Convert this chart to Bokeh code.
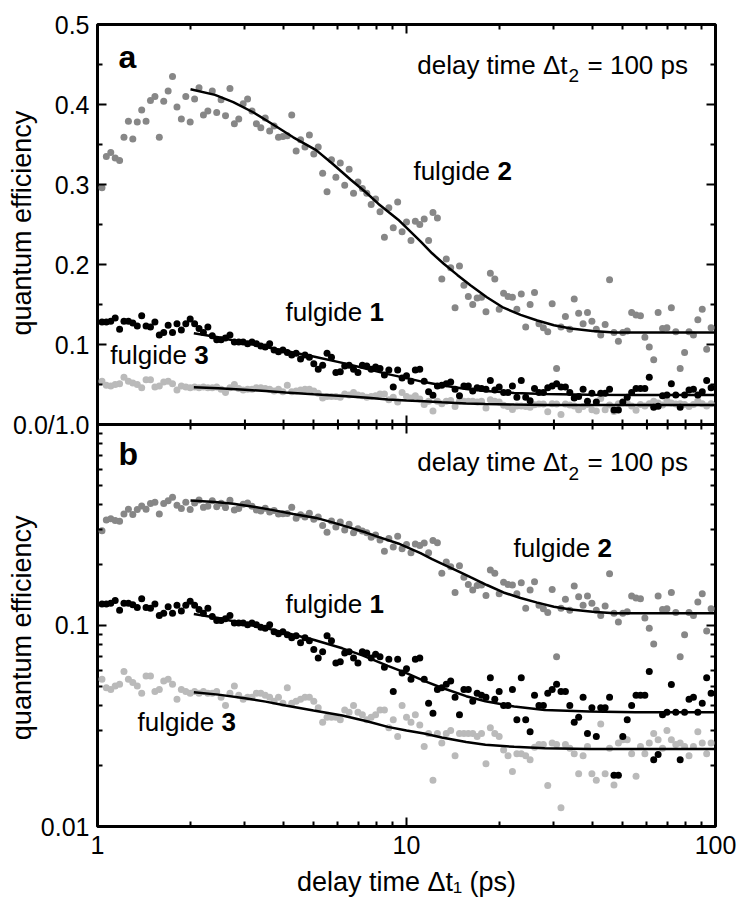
import math
from bokeh.plotting import figure
from bokeh.models import (Range1d, LogScale, LinearAxis, LogAxis, FixedTicker,
                          BasicTickFormatter, Span)
from bokeh.embed import file_html
from bokeh.resources import INLINE
from bokeh.core.properties import value

# ---------------- data ----------------
delay = [
    1.034, 1.068, 1.104, 1.141, 1.179, 1.218, 1.259, 1.301, 1.345, 1.390,
    1.436, 1.484, 1.534, 1.585, 1.638, 1.693, 1.749, 1.808, 1.868, 1.931,
    1.995, 2.062, 2.131, 2.202, 2.276, 2.352, 2.431, 2.512, 2.596, 2.683,
    2.773, 2.865, 2.961, 3.060, 3.162, 3.268, 3.377, 3.490, 3.607, 3.728,
    3.852, 3.981, 4.114, 4.252, 4.394, 4.541, 4.693, 4.850, 5.012, 5.180,
    5.353, 5.532, 5.717, 5.908, 6.105, 6.310, 6.521, 6.739, 6.964, 7.197,
    7.438, 7.686, 7.943, 8.209, 8.483, 8.767, 9.060, 9.363, 9.677, 10.00,
    10.34, 10.68, 11.04, 11.41, 11.79, 12.18, 12.59, 13.01, 13.45, 13.90,
    14.36, 14.84, 15.34, 15.85, 16.38, 16.93, 17.49, 18.08, 18.68, 19.31,
    19.95, 20.62, 21.31, 22.02, 22.76, 23.52, 24.31, 25.12, 25.96, 26.83,
    27.73, 28.65, 29.61, 30.60, 31.62, 32.68, 33.77, 34.90, 36.07, 37.28,
    38.52, 39.81, 41.14, 42.52, 43.94, 45.41, 46.93, 48.50, 50.12, 51.80,
    53.53, 55.32, 57.17, 59.08, 61.05, 63.10, 65.21, 67.39, 69.64, 71.97,
    74.38, 76.86, 79.43, 82.09, 84.84, 87.67, 90.60, 93.63, 96.77,
]

fulgide2 = [
    .296, .335, .340, .333, .330, .359, .379, .357, .378, .393,
    .379, .405, .410, .359, .404, .417, .435, .397, .382, .410,
    .378, .407, .421, .387, .392, .417, .390, .406, .386, .420,
    .376, .382, .401, .407, .392, .376, .371, .383, .367, .373,
    .359, .360, .361, .387, .342, .356, .347, .362, .338, .347,
    .314, .291, .331, .309, .327, .299, .319, .289, .303, .295,
    .289, .275, .282, .266, .234, .271, .246, .278, .241, .253,
    .230, .254, .250, .257, .230, .265, .258, .182, .207, .196,
    .146, .198, .174, .160, .150, .158, .159, .141, .189, .182,
    .144, .164, .160, .159, .144, .163, .122, .150, .165, .126,
    .121, .116, .151, .070, .122, .135, .119, .157, .139, .126,
    .140, .129, .119, .112, .125, .181, .115, .104, .115, .117,
    .140, .137, .136, .109, .097, .081, .140, .120, .121, .146,
    .116, .070, .090, .116, .112, .131, .144, .094, .121,
]

fulgide1 = [
    .128, .128, .129, .133, .119, .129, .129, .127, .123, .136,
    .123, .122, .128, .112, .115, .124, .115, .126, .118, .126,
    .132, .126, .120, .115, .122, .111, .106, .106, .108, .112,
    .103, .103, .103, .101, .103, .101, .098, .097, .101, .093,
    .091, .093, .090, .087, .089, .082, .087, .084, .076, .069,
    .074, .089, .084, .065, .066, .073, .074, .069, .065, .074,
    .073, .069, .072, .070, .062, .068, .047, .068, .058, .061,
    .054, .068, .069, .054, .041, .0366, .048, .049, .051, .053,
    .044, .036, .048, .048, .042, .046, .045, .044, .055, .043,
    .047, .040, .040, .048, .034, .055, .034, .0296, .045, .040,
    .040, .046, .048, .051, .047, .047, .040, .033, .035, .044,
    .029, .039, .028, .039, .039, .044, .018, .018, .028, .034,
    .040, .045, .045, .045, .059, .0215, .0228, .036, .037, .0508,
    .037, .0215, .037, .043, .044, .037, .041, .055, .046,
]

fulgide3 = [
    .054, .049, .048, .050, .051, .059, .054, .052, .050, .046,
    .056, .056, .047, .048, .053, .054, .051, .043, .048, .047,
    .046, .047, .046, .047, .046, .046, .047, .044, .040, .046,
    .050, .045, .043, .044, .044, .046, .046, .045, .044, .042,
    .044, .041, .049, .041, .042, .043, .044, .044, .042, .039,
    .033, .035, .035, .035, .034, .038, .037, .040, .037, .036,
    .034, .035, .036, .038, .038, .031, .034, .028, .040, .035,
    .033, .036, .032, .025, .029, .017, .029, .026, .029, .030,
    .0225, .029, .029, .029, .029, .028, .029, .0205, .031, .029,
    .028, .024, .0225, .0188, .023, .023, .0225, .0215, .0248, .0256,
    .0256, .016, .026, .0256, .0124, .0256, .0245, .023, .0183, .0225,
    .025, .0183, .017, .0324, .0183, .0245, .0161, .026, .027, .027,
    .023, .0178, .025, .023, .026, .029, .027, .0245, .030, .027,
    .0256, .026, .025, .0225, .025, .0296, .026, .023, .026,
]

fit2_x = [2.0, 2.4, 2.75, 3.2, 3.7, 4.3, 5.1, 5.8, 6.6, 7.4, 8.1, 9.4, 11.1, 12.1,
          13.2, 14.6, 16.1, 18.2, 20.6, 23.4, 26.5, 30, 34, 40, 47, 56, 70, 100]
fit2_y = [.419, .412, .403, .390, .375, .359, .343, .325, .306, .290, .276, .256, .229, .214,
          .201, .187, .174, .159, .146, .137, .130, .124, .120, .117, .115, .115, .115, .115]

fit1_x = [2.05, 2.46, 3.0, 3.5, 4.06, 5.0, 6.2, 7.2, 8.7, 10, 11.4, 13, 15.6, 18,
          22.3, 28, 39, 55, 100]
fit1_y = [.114, .109, .102, .097, .092, .085, .077, .071, .063, .058, .053, .049, .0445, .042,
          .0395, .038, .0373, .037, .037]

fit3_x = [2.05, 2.46, 3.0, 3.5, 4.06, 5.0, 6.2, 7.5, 8.7, 10, 11.4, 13, 15.6, 18,
          22.3, 28, 39, 100]
fit3_y = [.0465, .0453, .0435, .0418, .0400, .0378, .0357, .0333, .0313, .0300, .0290, .0277,
          .0263, .0255, .0249, .0245, .0243, .0243]

x_major = [1, 10, 100]
x_labels = ["1", "10", "100"]
x_minor = [2, 3, 4, 5, 6, 7, 8, 9, 20, 30, 40, 50, 60, 70, 80, 90]

lin_major = [0, 0.1, 0.2, 0.3, 0.4, 0.5]
lin_labels = ["0.0/1.0", "0.1", "0.2", "0.3", "0.4", "0.5"]
lin_minor = [0.05, 0.15, 0.25, 0.35, 0.45]

log_major = [0.01, 0.1, 1]
log_labels = ["0.01", "0.1", ""]
log_minor = [0.02, 0.03, 0.04, 0.05, 0.06, 0.07, 0.08, 0.09,
             0.2, 0.3, 0.4, 0.5, 0.6, 0.7, 0.8, 0.9]

x_title = "delay time \u0394t\u2081 (ps)"
y_title = "quantum efficiency"

# ---------------- styling ----------------
FONT = "Liberation Sans"
INK = "black"
C1, C2, C3 = "#000000", "#878787", "#bababa"

# One frame holds both panels: panel a (linear, 0..0.5) on top of panel b (log, 0.01..1).
LIN_LO, LIN_HI = -0.5025, 0.5
LOG_LO, LOG_HI = 0.01, 97.72


def log_pos(v):
    span = math.log10(LOG_HI) - math.log10(LOG_LO)
    return LIN_LO + (math.log10(v) - math.log10(LOG_LO)) / span * (LIN_HI - LIN_LO)


p = figure(width=740, height=905, x_axis_type="log", x_range=Range1d(1, 100),
           y_range=Range1d(LIN_LO, LIN_HI), x_axis_location=None, y_axis_location=None,
           output_backend="svg", toolbar_location=None,
           min_border_left=97, min_border_right=25, min_border_top=24, min_border_bottom=79)
p.extra_y_ranges = {"log": Range1d(LOG_LO, LOG_HI)}
p.extra_y_scales = {"log": LogScale()}
for g in p.grid:
    g.visible = False
p.outline_line_color = INK
p.outline_line_width = 3
p.background_fill_color = "white"
p.border_fill_color = "white"


def style_axis(ax, ticks=None):
    ax.axis_line_color = None
    ax.major_tick_in = 9
    ax.major_tick_out = 0
    ax.minor_tick_in = 5
    ax.minor_tick_out = 0
    ax.major_tick_line_width = 2
    ax.minor_tick_line_width = 2
    ax.major_tick_line_color = INK
    ax.minor_tick_line_color = INK
    ax.major_label_text_font = FONT
    ax.major_label_text_color = INK
    ax.major_label_text_font_size = "25px"
    if ticks is not None:  # mirror axis: ticks only, no labels
        ax.major_label_overrides = {t: "" for t in ticks}
        ax.major_label_standoff = 0


# x axes
xb = LogAxis(ticker=FixedTicker(ticks=x_major, minor_ticks=x_minor),
             formatter=BasicTickFormatter(),
             major_label_overrides=dict(zip(x_major, x_labels)),
             axis_label=x_title)
style_axis(xb)
xb.major_label_standoff = 9
xb.axis_label_standoff = 10
xb.axis_label_text_font = FONT
xb.axis_label_text_font_size = "27px"
xb.axis_label_text_font_style = "normal"
xb.axis_label_text_color = INK
p.add_layout(xb, "below")

xt = LogAxis(ticker=FixedTicker(ticks=x_major, minor_ticks=x_minor),
             formatter=BasicTickFormatter())
style_axis(xt, x_major)
p.add_layout(xt, "above")

# y axes (linear ticks for panel a, log ticks mapped for panel b)
y_ticks = sorted(set(lin_major + [log_pos(v) for v in log_major]))
y_minor = lin_minor + [log_pos(v) for v in log_minor]
y_over = dict(zip(lin_major, lin_labels))
for v, s in zip(log_major, log_labels):
    k = log_pos(v)
    if k not in y_over:
        y_over[k] = s

# the left title is written once per panel: both copies share the axis label,
# separated by non-breaking spaces so that each one sits centred on its own panel
yl = LinearAxis(ticker=FixedTicker(ticks=y_ticks, minor_ticks=y_minor),
                formatter=BasicTickFormatter(), major_label_overrides=y_over,
                axis_label=y_title + "\u00a0" * 24 + y_title)
style_axis(yl)
yl.major_label_standoff = 8
yl.axis_label_standoff = -27
yl.axis_label_text_font = FONT
yl.axis_label_text_font_size = "27px"
yl.axis_label_text_font_style = "normal"
yl.axis_label_text_color = INK
p.add_layout(yl, "left")

yr = LinearAxis(ticker=FixedTicker(ticks=y_ticks, minor_ticks=y_minor),
                formatter=BasicTickFormatter())
style_axis(yr, y_ticks)
p.add_layout(yr, "right")

# boundary between panels, with ticks both ways
p.add_layout(Span(location=0, dimension="width", line_color=INK, line_width=3))
mid_major = [v for v in x_major if 1 < v < 100]
p.scatter(mid_major, [0] * len(mid_major), marker="dash", angle=math.pi / 2,
          size=18, line_color=INK, line_width=2)
p.scatter(x_minor, [0] * len(x_minor), marker="dash", angle=math.pi / 2,
          size=10, line_color=INK, line_width=2)

# ---- panel a (linear) ----
for ys, c in ((fulgide3, C3), (fulgide2, C2), (fulgide1, C1)):
    p.scatter(delay, ys, size=7, fill_color=c, line_color=None)
for fx, fy in ((fit2_x, fit2_y), (fit1_x, fit1_y), (fit3_x, fit3_y)):
    p.line(fx, fy, line_color=INK, line_width=2.5)

# ---- panel b (log) ----
for ys, c in ((fulgide3, C3), (fulgide2, C2), (fulgide1, C1)):
    p.scatter(delay, ys, size=7, fill_color=c, line_color=None, y_range_name="log")
for fx, fy in ((fit2_x, fit2_y), (fit1_x, fit1_y), (fit3_x, fit3_y)):
    p.line(fx, fy, line_color=INK, line_width=2.5, y_range_name="log")


def txt(xs, ys, texts, size="26px", bold=False, rng=None, dx=0, dy=-10, align="left"):
    kw = {"y_range_name": rng} if rng else {}
    p.text(x=xs, y=ys, text=texts, text_font=value(FONT), text_font_size=size,
           text_font_style="bold" if bold else "normal", text_align=align,
           text_baseline="alphabetic", x_offset=dx, y_offset=dy, text_color=INK, **kw)


# panel a annotations
txt([1.17], [0.445], ["a"], size="32px", bold=True, dy=-12)
txt([33.2], [0.4375], ["delay time \u0394t"], align="right")
txt([33.2], [0.4375], ["2"], size="19px", dx=1, dy=1)
txt([33.2], [0.4375], ["= 100 ps"], dx=20)
txt([10.53, 4.06, 1.10], [0.301, 0.124, 0.071], ["fulgide"] * 3, dy=-13)
txt([10.53, 4.06, 1.10], [0.301, 0.124, 0.071], ["2", "1", "3"], bold=True, dx=84, dy=-13)

# panel b annotations
txt([1.17], [0.625], ["b"], size="32px", bold=True, rng="log", dy=-12)
txt([33.2], [0.577], ["delay time \u0394t"], align="right", rng="log")
txt([33.2], [0.577], ["2"], size="19px", dx=1, dy=1, rng="log")
txt([33.2], [0.577], ["= 100 ps"], dx=20, rng="log")
txt([22.2, 4.06, 1.347], [0.21, 0.11, 0.0284], ["fulgide"] * 3, rng="log", dy=-13)
txt([22.2, 4.06, 1.347], [0.21, 0.11, 0.0284], ["2", "1", "3"], bold=True, dx=84,
    rng="log", dy=-13)

open("out.html", "w").write(file_html(p, INLINE))
